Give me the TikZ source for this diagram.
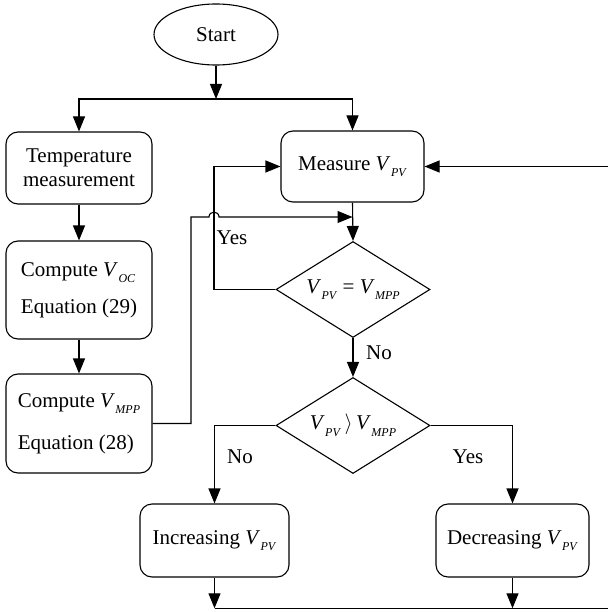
\documentclass[tikz,border=0pt]{standalone}
\usepackage{fontspec}
\setmainfont{Liberation Serif}
\usetikzlibrary{arrows.meta,shapes.geometric}
\newcommand{\Vsub}[1]{\textit{V}\kern0.5pt\raisebox{-6.5pt}{\fontsize{12}{12}\selectfont\textit{#1}}}
\begin{document}
\begin{tikzpicture}[x=1pt,y=-1pt,
  every node/.style={font=\fontsize{21}{24}\selectfont},
  box/.style={draw, line width=1.1pt, rounded corners=12pt, inner sep=0pt},
  dia/.style={draw, diamond, shape aspect=1.6, inner sep=0pt, minimum width=154pt, minimum height=96pt, line width=1.1pt},
  arr/.style={-{Triangle[length=15pt,width=12pt]}, line width=1.1pt},
  ln/.style={line width=1.1pt},
  lbl/.style={inner sep=0pt}]
\useasboundingbox (0,0) rectangle (607,612);
\node[draw, ellipse, line width=1.1pt, minimum width=124pt, minimum height=61pt, inner sep=0pt] (start) at (216,34.5) {Start};
\node[box, minimum width=146pt, minimum height=72pt, align=center] (temp) at (79,168) {Temperature\\measurement};
\node[box, minimum width=146pt, minimum height=98pt, align=left, font=\fontsize{21}{37}\selectfont] (voc) at (79,290) {Compute \Vsub{OC}\\Equation (29)};
\node[box, minimum width=146pt, minimum height=99pt, align=left, font=\fontsize{21}{42}\selectfont] (vmpp) at (79,423.5) {Compute \Vsub{MPP}\\Equation (28)};
\node[box, minimum width=143pt, minimum height=71pt] (meas) at (352.5,166.5) {Measure \Vsub{PV}};
\node[dia] (d1) at (353,289.5) {\Vsub{PV} = \Vsub{MPP}};
\node[dia] (d2) at (353,425.5) {\Vsub{PV}\,$\rangle$\,\Vsub{MPP}};
\node[box, minimum width=149pt, minimum height=73pt] (inc) at (214.5,540.5) {Increasing \Vsub{PV}};
\node[box, minimum width=153pt, minimum height=73pt] (dec) at (512.5,540.5) {Decreasing \Vsub{PV}};
% connectors
\coordinate (j1) at (216,99);
\draw[arr] (start.south) -- (j1);
\draw[arr] (j1) -| (temp.north);
\draw[arr] (j1) -| (meas.north);
\draw[arr] (temp) -- (voc);
\draw[arr] (voc) -- (vmpp);
\coordinate (h1) at (191,217);
\coordinate (m1) at (352.5,217);
\draw[arr] (vmpp.east) -| (h1) -- (209,217) .. controls (209,210.5) and (219,210.5) .. (219,217) -- (m1);
\draw[arr] (meas.south) -- (d1.north);
\coordinate (y1) at (214,289.5);
\draw[arr] (d1.west) -- (y1) |- (meas.west);
\node[lbl] (yes1) at (232,238) {Yes};
\draw[arr] (d1.south) -- (d2.north);
\node[lbl] (no1) at (379,353) {No};
\draw[arr] (d2.west) -| (inc.north);
\draw[arr] (d2.east) -| (dec.north);
\node[lbl] (no2) at (240,457) {No};
\node[lbl] (yes2) at (468,457) {Yes};
\coordinate (b1) at (214.5,608.3);
\coordinate (b2) at (512.5,608.3);
\coordinate (b3) at (608,608.3);
\draw[arr] (inc.south) -- (b1);
\draw[arr] (dec.south) -- (b2);
\draw[ln] (b1) -- (b3);
\coordinate (r1) at (608,166.5);
\draw[arr] (r1) -- (meas.east);
\end{tikzpicture}
\end{document}
